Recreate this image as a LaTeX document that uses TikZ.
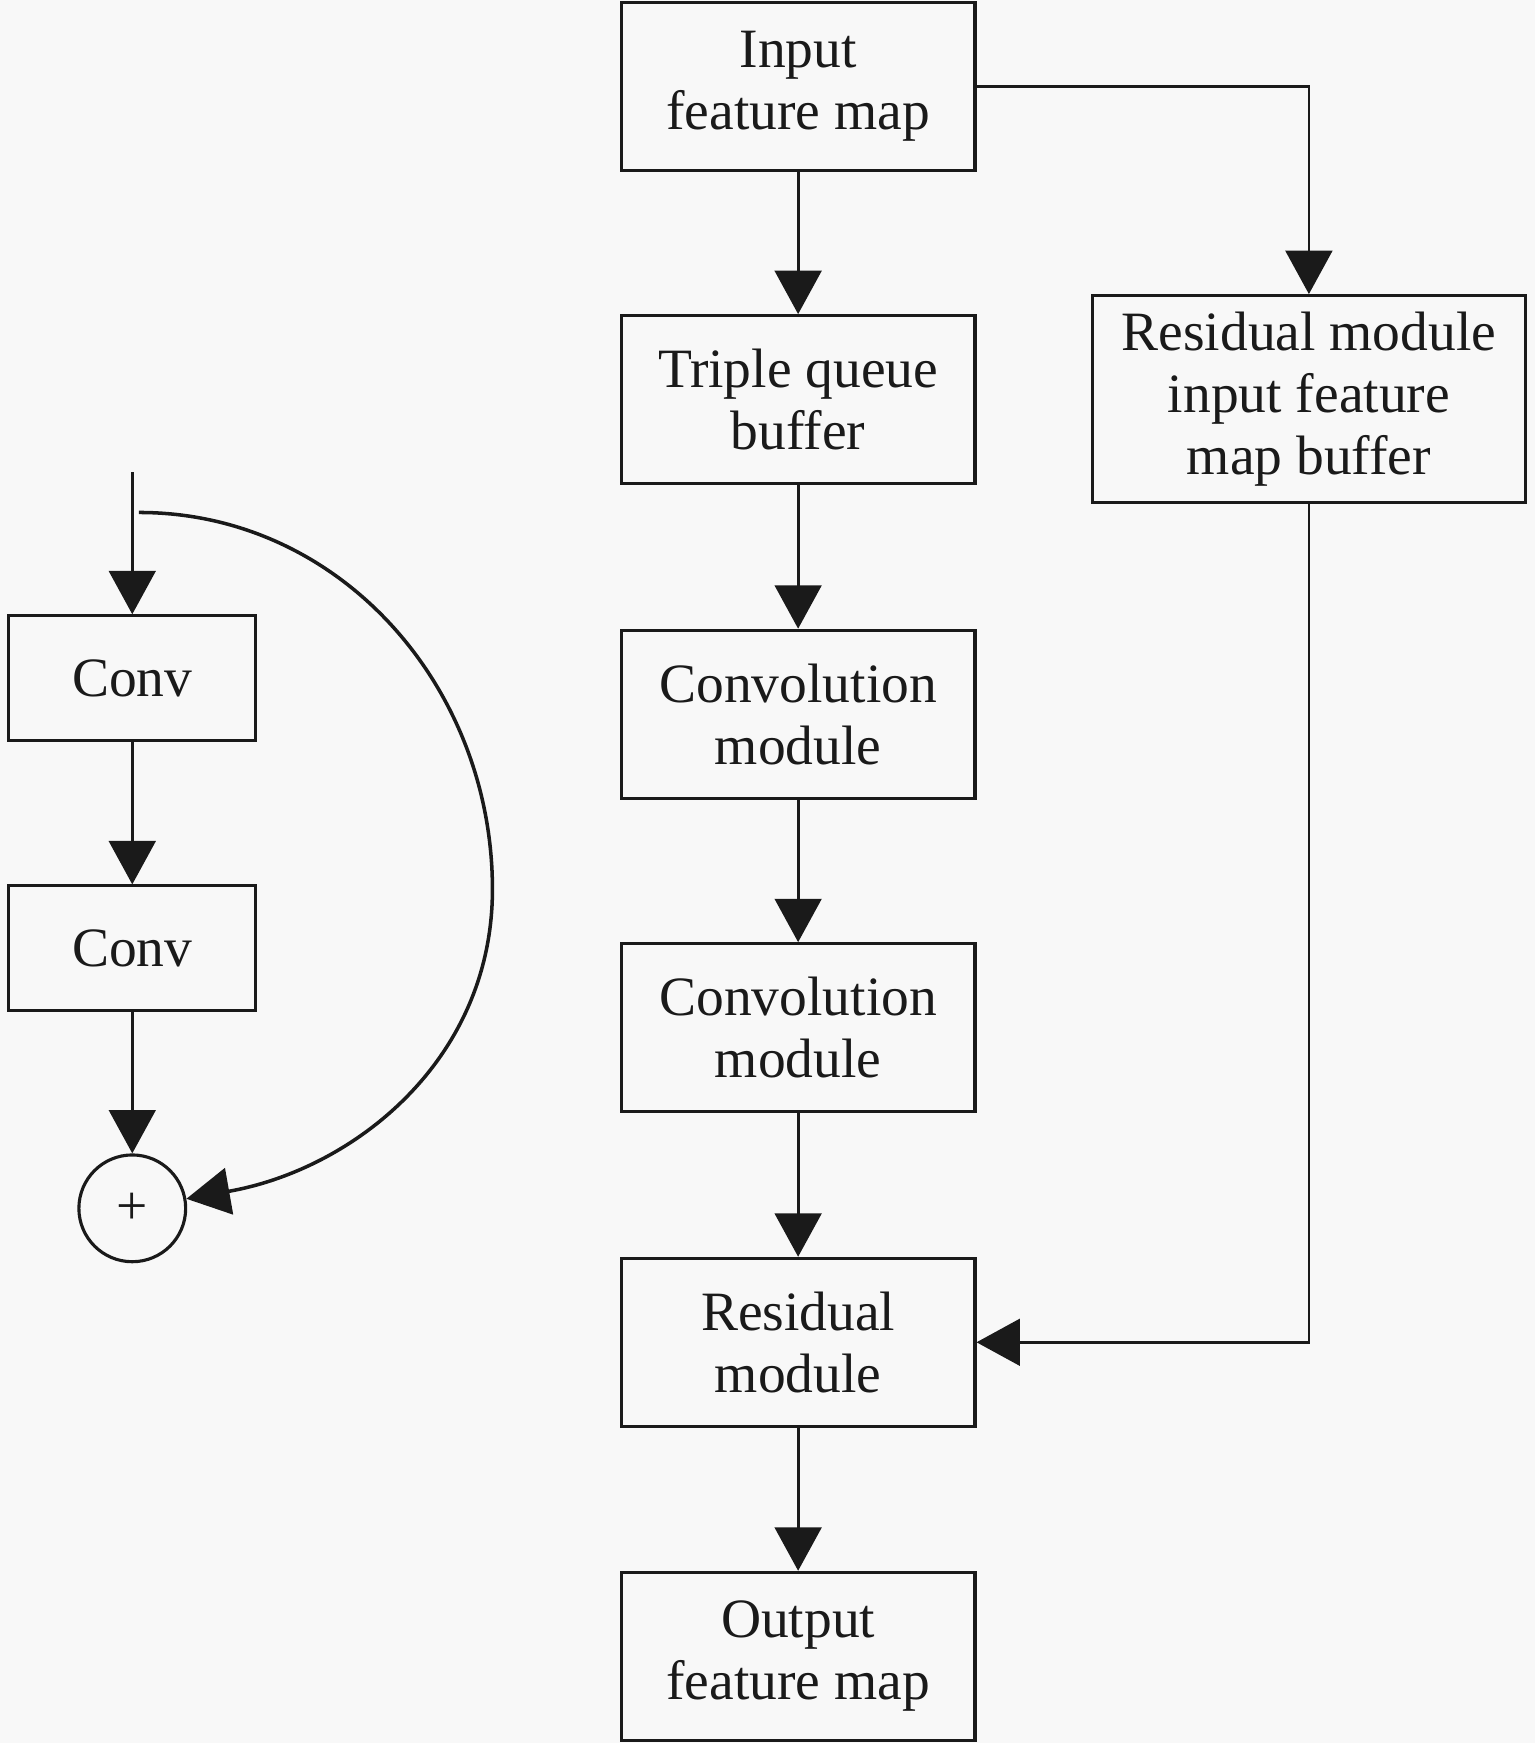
\documentclass[tikz,border=0pt]{standalone}
\usepackage{fontspec}
\setmainfont{Liberation Serif}
\usetikzlibrary{arrows.meta}
\definecolor{bg}{HTML}{F8F8F8}
\definecolor{ink}{HTML}{1A1A1A}
\tikzset{
  block/.style={draw=ink, line width=0.8pt, minimum width=3.18cm, minimum height=1.51cm, align=center, inner sep=0pt},
  convbox/.style={draw=ink, line width=0.8pt, minimum width=2.22cm, minimum height=1.12cm, inner sep=0pt},
  flow/.style={draw=ink, line width=0.7pt, -{Triangle[length=0.39cm,width=0.42cm]}},
}
\begin{document}
\begin{tikzpicture}[x=0.01cm,y=-0.01cm,font=\fontsize{14.2}{15.9}\selectfont,color=ink]
\fill[bg] (0,0) rectangle (1381,1568);
\useasboundingbox (0,0) rectangle (1381,1568);
% main chain
\node[block] (in) at (718,77.5) {Input\\feature map};
\node[block] (tqb) at (718,359.5) {Triple queue\\buffer};
\node[block] (cm1) at (718,642.5) {Convolution\\module};
\node[block] (cm2) at (718,924.5) {Convolution\\module};
\node[block] (res) at (718,1207.5) {Residual\\module};
\node[block] (out) at (718,1490) {Output\\feature map};
\node[block, minimum width=3.89cm, minimum height=1.86cm] (rbuf) at (1177.5,359) {Residual module\\input feature\\map buffer};
\draw[flow] (in) -- (tqb);
\draw[flow] (tqb) -- (cm1);
\draw[flow] (cm1) -- (cm2);
\draw[flow] (cm2) -- (res);
\draw[flow] (res) -- (out);
\draw[flow] (in.east) -| (rbuf.north);
\draw[flow] (rbuf.south) |- (res.east);
% residual block
\node[convbox] (c1) at (119,610) {Conv};
\node[convbox] (c2) at (119,853) {Conv};
\node[draw=ink, circle, minimum size=0.96cm, inner sep=0pt, line width=0.8pt] (sum) at (119,1087) {+};
\coordinate (x0) at (119,425);
\coordinate (skip) at (125,461);
\coordinate (bend) at (443,800);
\draw[flow] (x0) -- (c1);
\draw[flow] (c1) -- (c2);
\draw[flow] (c2) -- (sum);
\draw[flow, line width=0.9pt] (skip) to[out=0,in=90] (bend) to[out=-90,in=10] (sum.10);
\end{tikzpicture}
\end{document}
